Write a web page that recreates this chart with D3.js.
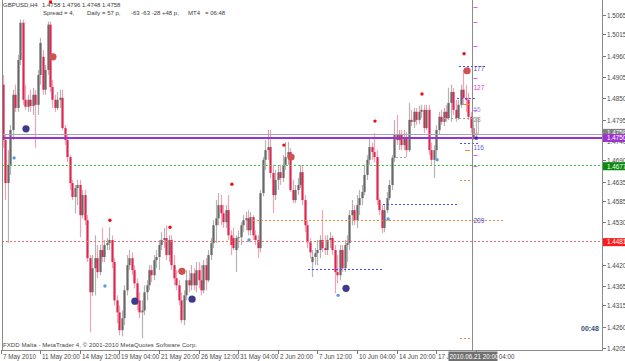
<!DOCTYPE html>
<html><head><meta charset="utf-8">
<script src="https://cdn.jsdelivr.net/npm/d3@7"></script>
<style>body{margin:0;background:#fff}svg{display:block;font-family:"Liberation Sans",Arial,sans-serif}text{white-space:pre}</style>
</head><body><svg id="c" width="625" height="361"></svg>
<script>
// ---- DATA (GBPUSD H4, 7 May - 22 Jun 2010) ----
const openP = [
1.4846,1.4885,1.4742,1.4631,1.4678,1.4768,1.4859,1.4825,1.4949,1.5045,
1.4846,1.4828,1.4846,1.4830,1.4859,1.4833,1.4910,1.4957,1.4872,1.4923,
1.5040,1.4879,1.4846,1.4825,1.4846,1.4851,1.4773,1.4742,1.4698,1.4631,
1.4595,1.4618,1.4626,1.4548,1.4600,1.4535,1.4437,1.4349,1.4411,1.4437,
1.4401,1.4458,1.4440,1.4471,1.4476,1.4484,1.4427,1.4328,1.4297,1.4251,
1.4282,1.4354,1.4419,1.4437,1.4406,1.4372,1.4328,1.4297,1.4302,1.4349,
1.4367,1.4406,1.4393,1.4432,1.4440,1.4471,1.4484,1.4489,1.4445,1.4484,
1.4419,1.4385,1.4367,1.4328,1.4277,1.4341,1.4380,1.4367,1.4398,1.4367,
1.4406,1.4380,1.4354,1.4419,1.4380,1.4445,1.4476,1.4522,1.4540,1.4574,
1.4553,1.4530,1.4561,1.4496,1.4489,1.4458,1.4489,1.4491,1.4522,1.4535,
1.4540,1.4509,1.4543,1.4496,1.4484,1.4463,1.4605,1.4691,1.4716,1.4724,
1.4657,1.4600,1.4639,1.4659,1.4644,1.4678,1.4698,1.4711,1.4613,1.4587,
1.4613,1.4626,1.4659,1.4587,1.4522,1.4478,1.4427,1.4440,1.4450,1.4458,
1.4484,1.4463,1.4458,1.4484,1.4489,1.4458,1.4401,1.4393,1.4458,1.4411,
1.4471,1.4476,1.4548,1.4561,1.4535,1.4574,1.4592,1.4608,1.4652,1.4691,
1.4724,1.4711,1.4698,1.4587,1.4561,1.4515,1.4561,1.4592,1.4626,1.4696,
1.4755,1.4742,1.4755,1.4729,1.4747,1.4716,1.4794,1.4789,1.4815,1.4794,
1.4815,1.4820,1.4773,1.4820,1.4716,1.4691,1.4716,1.4768,1.4802,1.4789,
1.4815,1.4799,1.4838,1.4866,1.4820,1.4799,1.4833,1.4872,1.4851,1.4846,
1.4802,1.4773,1.4758];
const highP = [
1.4900,1.4910,1.4755,1.4716,1.4781,1.4872,1.4885,1.4962,1.5053,1.5053,
1.4885,1.4859,1.4872,1.4877,1.4872,1.4923,1.5006,1.4975,1.4936,1.5048,
1.5048,1.4897,1.4859,1.4866,1.4872,1.4872,1.4781,1.4755,1.4703,1.4639,
1.4626,1.4639,1.4639,1.4613,1.4613,1.4548,1.4445,1.4445,1.4496,1.4471,
1.4471,1.4515,1.4484,1.4489,1.4517,1.4496,1.4437,1.4341,1.4315,1.4302,
1.4367,1.4445,1.4458,1.4452,1.4419,1.4385,1.4349,1.4328,1.4367,1.4380,
1.4419,1.4419,1.4445,1.4458,1.4484,1.4504,1.4515,1.4522,1.4496,1.4496,
1.4445,1.4406,1.4380,1.4349,1.4354,1.4406,1.4406,1.4419,1.4411,1.4427,
1.4427,1.4419,1.4432,1.4437,1.4458,1.4489,1.4535,1.4587,1.4605,1.4600,
1.4574,1.4574,1.4600,1.4509,1.4515,1.4496,1.4509,1.4530,1.4548,1.4556,
1.4561,1.4556,1.4548,1.4509,1.4496,1.4613,1.4698,1.4742,1.4768,1.4768,
1.4678,1.4665,1.4678,1.4678,1.4703,1.4737,1.4737,1.4722,1.4639,1.4626,
1.4644,1.4678,1.4678,1.4600,1.4535,1.4489,1.4458,1.4463,1.4484,1.4496,
1.4561,1.4496,1.4496,1.4504,1.4496,1.4471,1.4445,1.4471,1.4471,1.4484,
1.4496,1.4561,1.4587,1.4574,1.4600,1.4613,1.4626,1.4678,1.4703,1.4750,
1.4735,1.4760,1.4716,1.4592,1.4574,1.4574,1.4608,1.4639,1.4703,1.4794,
1.4807,1.4768,1.4768,1.4768,1.4763,1.4838,1.4820,1.4825,1.4825,1.4830,
1.4833,1.4833,1.4833,1.4833,1.4735,1.4729,1.4781,1.4815,1.4820,1.4825,
1.4833,1.4877,1.4885,1.4877,1.4846,1.4846,1.4885,1.4923,1.4885,1.4864,
1.4815,1.4781,1.4796];
const lowP = [
1.4830,1.4722,1.4587,1.4476,1.4652,1.4742,1.4815,1.4815,1.4936,1.4833,
1.4820,1.4815,1.4815,1.4807,1.4722,1.4807,1.4885,1.4859,1.4859,1.4910,
1.4866,1.4825,1.4815,1.4820,1.4825,1.4768,1.4729,1.4685,1.4613,1.4587,
1.4553,1.4574,1.4491,1.4540,1.4522,1.4427,1.4246,1.4339,1.4341,1.4385,
1.4393,1.4427,1.4427,1.4458,1.4458,1.4411,1.4315,1.4269,1.4238,1.4235,
1.4264,1.4341,1.4406,1.4393,1.4359,1.4302,1.4282,1.4230,1.4290,1.4328,
1.4354,1.4375,1.4380,1.4411,1.4406,1.4458,1.4463,1.4432,1.4427,1.4406,
1.4367,1.4354,1.4315,1.4269,1.4264,1.4328,1.4349,1.4354,1.4354,1.4349,
1.4359,1.4341,1.4346,1.4354,1.4375,1.4432,1.4463,1.4476,1.4522,1.4522,
1.4515,1.4515,1.4484,1.4445,1.4458,1.4401,1.4463,1.4471,1.4504,1.4509,
1.4496,1.4496,1.4484,1.4471,1.4437,1.4452,1.4597,1.4665,1.4691,1.4644,
1.4553,1.4587,1.4613,1.4626,1.4634,1.4665,1.4678,1.4608,1.4579,1.4579,
1.4600,1.4618,1.4574,1.4504,1.4463,1.4437,1.4388,1.4419,1.4419,1.4437,
1.4452,1.4445,1.4445,1.4463,1.4445,1.4346,1.4372,1.4380,1.4401,1.4401,
1.4427,1.4458,1.4522,1.4522,1.4515,1.4548,1.4574,1.4600,1.4639,1.4678,
1.4691,1.4685,1.4574,1.4548,1.4502,1.4504,1.4553,1.4587,1.4613,1.4685,
1.4729,1.4716,1.4716,1.4716,1.4698,1.4711,1.4778,1.4773,1.4781,1.4784,
1.4799,1.4760,1.4768,1.4703,1.4678,1.4644,1.4696,1.4755,1.4781,1.4778,
1.4789,1.4794,1.4789,1.4807,1.4789,1.4794,1.4825,1.4833,1.4815,1.4794,
1.4760,1.4742,1.4748];
const closeP = [
1.4885,1.4742,1.4631,1.4678,1.4768,1.4859,1.4825,1.4949,1.5045,1.4846,
1.4828,1.4846,1.4830,1.4859,1.4833,1.4910,1.4993,1.4872,1.4923,1.5040,
1.4879,1.4846,1.4825,1.4846,1.4851,1.4773,1.4742,1.4698,1.4631,1.4595,
1.4618,1.4626,1.4548,1.4600,1.4535,1.4437,1.4349,1.4411,1.4437,1.4401,
1.4458,1.4440,1.4471,1.4476,1.4484,1.4427,1.4328,1.4297,1.4251,1.4282,
1.4354,1.4419,1.4437,1.4406,1.4372,1.4328,1.4297,1.4302,1.4349,1.4367,
1.4406,1.4393,1.4432,1.4440,1.4471,1.4484,1.4489,1.4445,1.4484,1.4419,
1.4385,1.4367,1.4328,1.4277,1.4341,1.4380,1.4367,1.4398,1.4367,1.4406,
1.4380,1.4354,1.4419,1.4380,1.4445,1.4476,1.4522,1.4540,1.4574,1.4553,
1.4530,1.4561,1.4496,1.4471,1.4463,1.4489,1.4491,1.4522,1.4535,1.4540,
1.4509,1.4543,1.4496,1.4484,1.4463,1.4605,1.4691,1.4716,1.4724,1.4657,
1.4600,1.4639,1.4659,1.4644,1.4678,1.4698,1.4711,1.4613,1.4587,1.4613,
1.4626,1.4659,1.4587,1.4522,1.4478,1.4452,1.4440,1.4450,1.4458,1.4484,
1.4463,1.4458,1.4484,1.4489,1.4458,1.4401,1.4393,1.4458,1.4411,1.4471,
1.4476,1.4548,1.4561,1.4535,1.4574,1.4592,1.4608,1.4652,1.4691,1.4724,
1.4711,1.4698,1.4587,1.4561,1.4515,1.4561,1.4592,1.4626,1.4696,1.4755,
1.4742,1.4755,1.4729,1.4747,1.4716,1.4794,1.4789,1.4815,1.4794,1.4815,
1.4820,1.4773,1.4820,1.4716,1.4691,1.4716,1.4768,1.4802,1.4789,1.4815,
1.4799,1.4838,1.4866,1.4820,1.4799,1.4833,1.4872,1.4851,1.4846,1.4802,
1.4773,1.4750,1.4758];

const priceTicks = [1.5065,1.5015,1.4960,1.4905,1.4850,1.4795,1.4740,1.4690,1.4635,1.4585,1.4530,1.4475,1.4420,1.4365,1.4315,1.4260,1.4205];
const timeTickBars = [0,16,32,48,64,80,96,112,128,144,160,176,192];
const timeTickLabels = ["7 May 2010","11 May 20:00","14 May 12:00","19 May 04:00","21 May 20:00","26 May 12:00","31 May 04:00","2 Jun 20:00","7 Jun 12:00","10 Jun 04:00","14 Jun 20:00","17 Jun 12:00","22 Jun 04:00"];
const cursorBar = 190, cursorLabel = "2010.06.21 20:00";

const bidPrice = 1.4758, pivotPrice = 1.4750, supportPrice = 1.4677, lowLevelPrice = 1.4481;
// dotted level segments: [price, fromBar, toBar, kind]
const levelSegs = [
 [1.4934,185.3,196.6,"blue"],[1.4851,184.4,192.5,"blue"],[1.4799,178.8,190.9,"gray"],
 [1.4735,185.7,192.9,"blue"],[1.4698,158.2,164.6,"gray"],[1.4639,185.7,190.5,"orange"],
 [1.4577,154.5,184.0,"blue"],[1.4535,102.0,202.6,"orange"],[1.4408,124.2,154.1,"blue"],
 [1.4230,185.7,190.5,"orange"]];
const shortDashes = [[1.4835,186.9,189.7],[1.4716,187.7,189.7]];
const magentaMarks = [1.5086,1.5047,1.4985,1.4903,1.4820,1.4703,1.4675];
const sideLabels = [["177",1.4926,"#4b4bd0"],["127",1.4879,"#e040e0"],["55",1.4820,"#9c9cf0"],["28",1.4794,"#909090"],["116",1.4722,"#6060e0"],["209",1.4535,"#4040d0"]];
// signal markers [bar, price]
const bigNavy = [[10.3,1.4771],[54.3,1.4326],[77.4,1.4331],[139.6,1.4359]];
const bigBrown = [[21.2,1.4957],[73.3,1.4403],[117.4,1.4698],[188.5,1.4921]];
const smallRed = [[44.2,1.4535],[68.5,1.4517],[93.5,1.4628],[114.5,1.4729],[151.3,1.4791],[170.3,1.4861],[187.3,1.4965]];
const smallBlue = [[5.5,1.4696],[42.2,1.4365],[100.4,1.4484],[136.4,1.4341],[156.6,1.4538],[176.4,1.4691]];

// ---- DRAW ----
const svg = d3.select("#c");
const X0 = 2, X1 = 602, YB = 350;
const x = d3.scaleLinear().domain([0,192]).range([0.5,475.7]);
const y = d3.scaleLinear().domain([1.4205,1.5065]).range([348,15]);
const bars = openP.map((o,i)=>({i,o,h:highP[i],l:lowP[i],c:closeP[i]}));

svg.append("defs").append("clipPath").attr("id","pc").append("rect")
  .attr("x",X0).attr("y",0).attr("width",X1-X0).attr("height",YB);
const g = svg.append("g").attr("clip-path","url(#pc)");

// candles
const cg = g.append("g");
cg.selectAll("line.w").data(bars).join("line")
  .attr("x1",d=>Math.round(x(d.i))+0.5).attr("x2",d=>Math.round(x(d.i))+0.5)
  .attr("y1",d=>y(d.h)).attr("y2",d=>y(d.l))
  .attr("stroke",d=>d.c>=d.o?"#b4b4b4":"#f3a3b6").attr("stroke-width",1.2);
cg.selectAll("rect.b").data(bars).join("rect")
  .attr("x",d=>Math.round(x(d.i))-0.6).attr("width",2.2)
  .attr("y",d=>y(Math.max(d.o,d.c)))
  .attr("height",d=>Math.max(1,Math.abs(y(d.o)-y(d.c))))
  .attr("fill",d=>d.c>=d.o?"#686868":"#e0264f");

// levels
const lv = g.append("g").attr("shape-rendering","crispEdges");
function dotted(p, x1, x2, col){
  const yy = Math.round(y(p));
  const pts = d3.range(Math.round(x1), Math.round(x2), 4);
  lv.append("g").selectAll("rect").data(pts).join("rect")
    .attr("x",d=>d).attr("y",yy).attr("width",2).attr("height",1).attr("fill",col);
}
dotted(supportPrice, X0, X1, "#3dcc3d");
dotted(lowLevelPrice, X0, X1, "#ff6a6a");
lv.append("rect").attr("x",X0).attr("y",Math.round(y(bidPrice))).attr("width",X1-X0).attr("height",1).attr("fill","#a6a2bc");
lv.append("rect").attr("x",X0).attr("y",Math.round(y(pivotPrice))).attr("width",X1-X0).attr("height",2).attr("fill","#9b34cf");

const segCol = {blue:"#4a4af2",gray:"#a8a8a8",orange:"#f08a3a"};
levelSegs.forEach(s=>dotted(s[0], x(s[1]), x(s[2]), segCol[s[3]]));
shortDashes.forEach(s=>lv.append("rect").attr("x",x(s[1])).attr("y",Math.round(y(s[0]))).attr("width",x(s[2])-x(s[1])).attr("height",1).attr("fill","#f08a3a"));

// cursor vertical line
const cx = Math.round(x(cursorBar))+1.5;
svg.append("line").attr("x1",cx).attr("x2",cx).attr("y1",0).attr("y2",YB)
  .attr("stroke","#8c8c8c").attr("stroke-width",1);
g.selectAll("line.mm").data(magentaMarks).join("line")
  .attr("x1",cx+1).attr("x2",cx+5).attr("y1",d=>Math.round(y(d))+0.5).attr("y2",d=>Math.round(y(d))+0.5)
  .attr("stroke","#e455e4").attr("stroke-width",1);
g.append("rect").attr("x",cx+1).attr("y",y(1.4799)).attr("width",5).attr("height",y(1.4758)-y(1.4799))
  .attr("fill","none").attr("stroke","#b0b0b0").attr("stroke-width",0.8);
g.selectAll("text.sl").data(sideLabels).join("text")
  .attr("x",cx+1).attr("y",d=>y(d[1])+2.5).attr("font-size",6.5).attr("fill",d=>d[2]).text(d=>d[0]);

// markers
g.selectAll("circle.bn").data(bigNavy).join("circle").attr("cx",d=>x(d[0])).attr("cy",d=>y(d[1])).attr("r",3.6).attr("fill","#3b3a8e");
g.selectAll("circle.bb").data(bigBrown).join("circle").attr("cx",d=>x(d[0])).attr("cy",d=>y(d[1])).attr("r",3.6).attr("fill","#cc5352");
g.selectAll("circle.sr").data(smallRed).join("circle").attr("cx",d=>x(d[0])).attr("cy",d=>y(d[1])).attr("r",1.7).attr("fill","#f01010");
g.selectAll("circle.sb").data(smallBlue).join("circle").attr("cx",d=>x(d[0])).attr("cy",d=>y(d[1])).attr("r",1.7).attr("fill","#5c9bea");
g.append("rect").attr("x",x(192)-1).attr("y",y(1.4747)-1.5).attr("width",3).attr("height",3).attr("fill","#2b2bb0");

// frame
svg.append("line").attr("x1",X0+0.5).attr("x2",X0+0.5).attr("y1",0).attr("y2",YB).attr("stroke","#8a8a8a");
svg.append("line").attr("x1",X1+0.5).attr("x2",X1+0.5).attr("y1",0).attr("y2",YB+0.5).attr("stroke","#8a8a8a");
svg.append("line").attr("x1",X0).attr("x2",X1+1).attr("y1",YB+0.5).attr("y2",YB+0.5).attr("stroke","#8a8a8a");

// price axis
const ya = svg.append("g");
priceTicks.forEach(p=>{
  const yy = Math.round(y(p))+0.5;
  ya.append("line").attr("x1",X1+1).attr("x2",X1+4).attr("y1",yy).attr("y2",yy).attr("stroke","#777");
  ya.append("text").attr("x",X1+5).attr("y",yy+2.2).attr("font-size",6.3).attr("fill","#4a4a4a").text(p.toFixed(4));
});
const boxes = [[bidPrice,"#808080"],[pivotPrice,"#9b34cf"],[supportPrice,"#0a8a0a"],[lowLevelPrice,"#ff1a1a"]];
boxes.forEach(([p,col],k)=>{
  const yc = y(p) + (k===0?-1:1);
  ya.append("rect").attr("x",X1+1).attr("y",yc-4).attr("width",22).attr("height",8).attr("fill",col);
  ya.append("text").attr("x",X1+5).attr("y",yc+2.3).attr("font-size",6.3).attr("fill","#fff").text(p.toFixed(4));
});

// time axis
const xa = svg.append("g");
timeTickBars.forEach((b,k)=>{
  const xx = Math.round(x(b))+0.5;
  xa.append("line").attr("x1",xx).attr("x2",xx).attr("y1",YB).attr("y2",YB+4).attr("stroke","#777");
  xa.append("text").attr("x",xx+1.5).attr("y",359).attr("font-size",6.3).attr("fill","#4a4a4a").text(timeTickLabels[k]);
});
xa.append("rect").attr("x",cx-24).attr("y",YB+1.5).attr("width",49).attr("height",9.5).attr("fill","#707070");
xa.append("text").attr("x",cx-23).attr("y",359).attr("font-size",6.3).attr("fill","#fff").text(cursorLabel);

// header texts
const hdr = svg.append("g").attr("font-size",6).attr("fill","#3a3a3a");
hdr.append("text").attr("x",3).attr("y",7).text("GBPUSD,H4");
hdr.append("text").attr("x",42).attr("y",7).text("1.4758 1.4796 1.4748 1.4758");
hdr.append("text").attr("x",43).attr("y",15).text("Spread = 4,");
hdr.append("text").attr("x",87).attr("y",15).text("Daily");
hdr.append("text").attr("x",102).attr("y",15).text("= 57 p,");
hdr.append("text").attr("x",131).attr("y",15).text("-63 -63 -28 +48 p,");
hdr.append("text").attr("x",188).attr("y",15).text("MT4");
hdr.append("text").attr("x",205).attr("y",15).text("= 06:48");
svg.append("rect").attr("x",49).attr("y",0.5).attr("width",3).attr("height",3).attr("fill","#ff0000");

svg.append("text").attr("x",3).attr("y",347).attr("font-size",6).attr("fill","#444").attr("textLength",194)
  .text("FXDD Malta - MetaTrader 4, © 2001-2010 MetaQuotes Software Corp.");
svg.append("text").attr("x",581).attr("y",331).attr("font-size",7).attr("font-weight","bold").attr("fill","#3a4a78").text("00:48");
</script></body></html>
